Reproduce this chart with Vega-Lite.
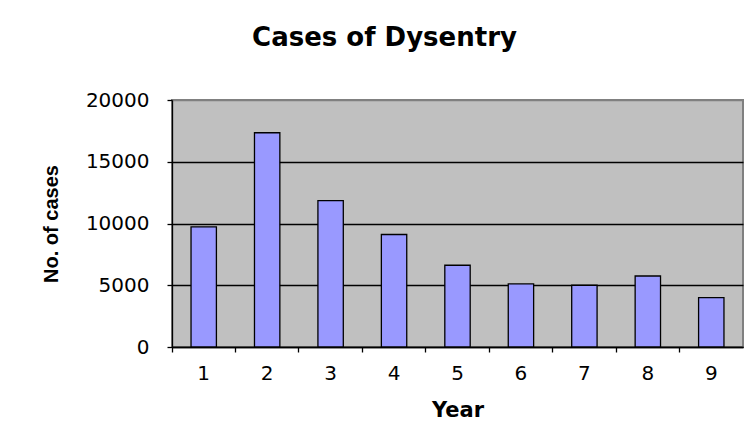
{
  "$schema": "https://vega.github.io/schema/vega-lite/v6.json",
  "autosize": "none",
  "width": 571,
  "height": 247,
  "padding": {"left": 172, "top": 100, "right": 8, "bottom": 96},
  "background": "white",
  "title": {
    "text": "Cases of Dysentry",
    "font": "DejaVu Sans",
    "fontSize": 26,
    "fontWeight": "bold",
    "color": "black",
    "anchor": "middle",
    "dx": -73,
    "baseline": "alphabetic",
    "offset": 18
  },
  "data": {
    "values": [
      {"year": "1", "cases": 9730},
      {"year": "2", "cases": 17350},
      {"year": "3", "cases": 11860},
      {"year": "4", "cases": 9110},
      {"year": "5", "cases": 6620},
      {"year": "6", "cases": 5110},
      {"year": "7", "cases": 5000},
      {"year": "8", "cases": 5750},
      {"year": "9", "cases": 4000}
    ]
  },
  "mark": {"type": "bar", "color": "#9999FF", "stroke": "black", "strokeWidth": 1.3, "width": {"band": 0.4}},
  "encoding": {
    "x": {
      "field": "year",
      "type": "ordinal",
      "sort": null,
      "scale": {"paddingInner": 0, "paddingOuter": 0},
      "axis": {
        "title": "Year",
        "titleFont": "DejaVu Sans",
        "titleFontSize": 21,
        "titleFontWeight": "bold",
        "titleColor": "black",
        "titlePadding": 16,
        "labelFont": "DejaVu Sans",
        "labelFontSize": 20,
        "labelColor": "black",
        "labelAngle": 0,
        "labelPadding": 11,
        "bandPosition": 0,
        "domainColor": "black",
        "domainWidth": 1.3,
        "tickColor": "black",
        "tickSize": 5,
        "tickWidth": 1.3,
        "grid": false
      }
    },
    "y": {
      "field": "cases",
      "type": "quantitative",
      "scale": {"domain": [0, 20000], "nice": false},
      "axis": {
        "title": "No. of cases",
        "titleFont": "Liberation Sans",
        "titleFontSize": 20,
        "titleFontWeight": "bold",
        "titleColor": "black",
        "titlePadding": 24,
        "values": [0, 5000, 10000, 15000, 20000],
        "format": "d",
        "labelFont": "DejaVu Sans",
        "labelFontSize": 20,
        "labelColor": "black",
        "labelPadding": 18,
        "domainColor": "black",
        "domainWidth": 1.3,
        "tickColor": "black",
        "tickSize": 5,
        "tickWidth": 1.3,
        "grid": true,
        "gridColor": {"condition": {"test": "datum.value >= 20000", "value": "#808080"}, "value": "black"},
        "gridWidth": 1.3,
        "gridOpacity": 1
      }
    }
  },
  "config": {
    "view": {"fill": "#C0C0C0", "stroke": "#808080", "strokeWidth": 2}
  }
}
